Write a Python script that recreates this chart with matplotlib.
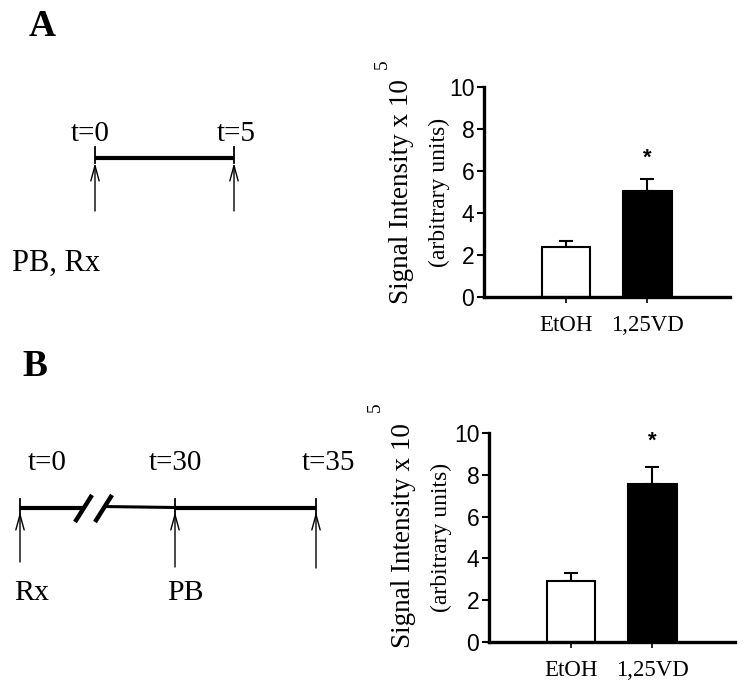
import matplotlib
matplotlib.use("Agg")
import matplotlib.pyplot as plt

# ---------------- data ----------------
groups = ["EtOH", "1,25VD"]
a_means = [2.4, 5.05]
a_errs = [0.25, 0.55]
b_means = [2.9, 7.55]
b_errs = [0.4, 0.8]
bar_colors = ["white", "black"]
yticks = [0, 2, 4, 6, 8, 10]
a_star = 6.6
b_star = 9.6

tl_a_times = ["t=0", "t=5"]
tl_a_treat = "PB, Rx"
tl_b_times = ["t=0", "t=30", "t=35"]
tl_b_treat = ["Rx", "PB", ""]

SERIF = ["Liberation Serif", "DejaVu Serif"]
SANS = ["Liberation Sans", "DejaVu Sans"]

fig = plt.figure(figsize=(7.5, 6.93), dpi=100)
W, H = 750, 693


def bar_panel(rect, means, errs, star_y):
    ax = fig.add_axes(rect)
    x = list(range(len(groups)))
    ax.bar(x, means, width=0.6, color=bar_colors, edgecolor="black", linewidth=1.5, zorder=2)
    ax.errorbar(x, means, yerr=[[0] * len(errs), errs], fmt="none", ecolor="black",
                elinewidth=1.5, capsize=5, capthick=1.5, zorder=1)
    ax.text(1, star_y, "*", ha="center", va="center", fontsize=16, fontweight="bold",
            family=SANS)
    ax.set_xlim(-1.01, 2.02)
    ax.set_ylim(0, 10)
    ax.set_yticks(yticks)
    ax.set_yticklabels([str(t) for t in yticks], family=SANS, fontsize=16.5)
    ax.set_xticks(x)
    ax.set_xticklabels(groups, family=SERIF, fontsize=16.5)
    for s in ["top", "right"]:
        ax.spines[s].set_visible(False)
    for s in ["left", "bottom"]:
        ax.spines[s].set_linewidth(2.4)
    ax.tick_params(axis="y", length=5, width=1.5, pad=2)
    ax.tick_params(axis="x", length=4, width=1.2, pad=9)
    return ax


axA = bar_panel([484 / W, 1 - 297 / H, (730 - 484) / W, (297 - 87) / H], a_means, a_errs, a_star)
axB = bar_panel([489 / W, 1 - 642 / H, (735 - 489) / W, (642 - 433) / H], b_means, b_errs, b_star)

# overlay in pixel coordinates for diagrams & labels
ov = fig.add_axes([0, 0, 1, 1], zorder=-1)
ov.set_xlim(0, W)
ov.set_ylim(H, 0)
ov.axis("off")

# y-axis labels
for (xs, ys, xa, ya, x5, y5) in [(401, 192, 439, 192, 382, 64), (403, 536, 441, 537, 375, 407)]:
    ov.text(xs, ys, "Signal Intensity x 10", rotation=90, ha="center", va="center",
            fontsize=19.5, family=SERIF)
    ov.text(xa, ya, "(arbitrary units)", rotation=90, ha="center", va="center",
            fontsize=17, family=SERIF)
    ov.text(x5, y5, "5", rotation=90, ha="center", va="center", fontsize=14, family=SERIF)

# panel letters
ov.text(42, 27, "A", ha="center", va="center", fontsize=27, fontweight="bold", family=SERIF)
ov.text(35, 367, "B", ha="center", va="center", fontsize=27, fontweight="bold", family=SERIF)

arrow_kw = dict(arrowstyle="->,head_length=1.1,head_width=0.3", lw=1.0, color="black",
                shrinkA=0, shrinkB=0)

# ---- timeline A ----
ov.plot([95, 234], [158, 158], color="black", lw=3.0, solid_capstyle="butt")
for xp in [95, 234]:
    ov.plot([xp, xp], [147, 163], color="black", lw=1.3)
    ov.annotate("", xy=(xp, 163), xytext=(xp, 211), arrowprops=arrow_kw)
for xp, lab in zip([90, 236], tl_a_times):
    ov.text(xp, 134, lab, ha="center", va="center", fontsize=21, family=SERIF)
ov.text(56, 263, tl_a_treat, ha="center", va="center", fontsize=22, family=SERIF)

# ---- timeline B ----
ov.plot([20, 83], [508, 508], color="black", lw=3.0, solid_capstyle="butt")
ov.plot([103, 175], [506.5, 507.5], color="black", lw=2.2, solid_capstyle="butt")
ov.plot([175, 316], [508, 508], color="black", lw=3.0, solid_capstyle="butt")
for (x0, x1) in [(75, 92), (95, 112)]:
    ov.plot([x0, x1], [522, 495], color="black", lw=3.2, solid_capstyle="butt")
for xp, ybot in zip([20, 175, 316], [562, 567, 568]):
    ov.plot([xp, xp], [499, 514], color="black", lw=1.3)
    ov.annotate("", xy=(xp, 512), xytext=(xp, ybot), arrowprops=arrow_kw)
for xp, lab in zip([47, 175, 328], tl_b_times):
    ov.text(xp, 463, lab, ha="center", va="center", fontsize=21, family=SERIF)
for xp, lab in zip([32, 185, 316], tl_b_treat):
    if lab:
        ov.text(xp, 593, lab, ha="center", va="center", fontsize=21.5, family=SERIF)

fig.savefig("out.png", dpi=100, facecolor="white")
